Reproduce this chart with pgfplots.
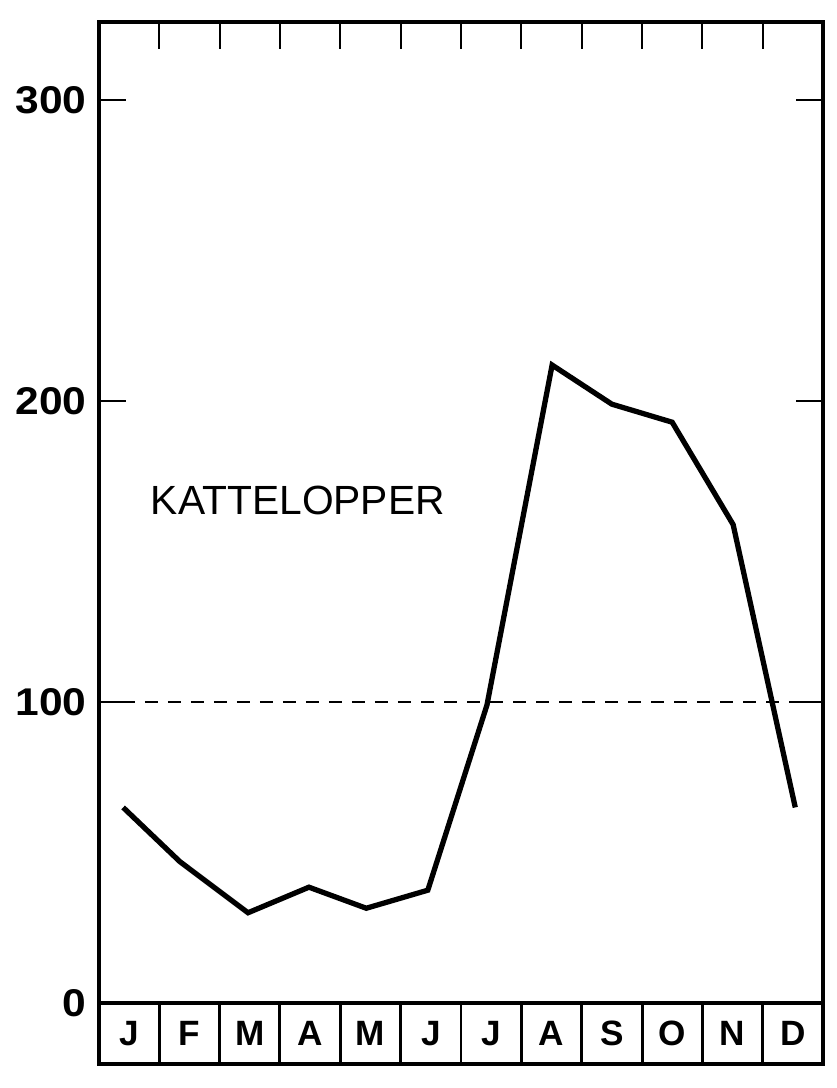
\documentclass[border=0pt]{standalone}
\usepackage{fontspec}
\setmainfont{Liberation Sans}
\newfontfamily\numfont[FakeStretch=1.1]{Liberation Sans}
\usepackage{pgfplots}
\pgfplotsset{compat=1.18}

\begin{document}
\begin{tikzpicture}
\begin{axis}[
  scale only axis,
  width=72.4mm, height=98.1mm,
  xmin=0, xmax=12, ymin=0, ymax=326,
  clip=false,
  axis line style={line width=1.2pt},
  tick align=inside,
  major tick length=2.7mm,
  every tick/.style={black, line width=0.6pt},
  % month boundaries: ticks on top only
  xtick={1,2,3,4,5,6,7,8,9,10,11},
  xticklabels={},
  xtick pos=upper,
  xticklabel pos=lower,
  % month letters sit in the boxes under the frame
  extra x ticks={0.5,1.5,2.5,3.5,4.5,5.5,6.5,7.5,8.5,9.5,10.5,11.5},
  extra x tick labels={J,F,M,A,M,J,J,A,S,O,N,D},
  extra x tick style={major tick length=0pt,
    xticklabel style={anchor=center, yshift=-3.05mm,
      font={\fontsize{10}{12}\selectfont\bfseries}}},
  ytick={0,100,200,300},
  ytick pos=both,
  yticklabel pos=left,
  yticklabel style={font={\fontsize{11}{13}\numfont\bfseries}},
  /pgf/number format/assume math mode=true,
]

% reference level
\addplot[black, line width=0.45pt, dash pattern=on 1.3mm off 1mm]
  coordinates {(0,100) (12,100)};

% monthly index, cat fleas
\addplot[black, line width=1.5pt, line join=miter] coordinates {
  (0.40, 65)
  (1.34, 47)
  (2.47, 30)
  (3.48, 38.5)
  (4.43, 31.5)
  (5.45, 37.5)
  (6.43, 99)
  (7.51, 212)
  (8.50, 199)
  (9.50, 193)
  (10.51,159)
  (11.54, 65)
};

\node[anchor=west, inner sep=0pt, font={\fontsize{11.6}{13}\selectfont}]
  at (axis cs:0.85,167) {KATTELOPPER};

% row of month boxes
\draw[line width=1.1pt] (axis cs:0,0) rectangle (axis cs:12,-20.3);
\pgfplotsinvokeforeach{1,...,11}{
  \draw[line width=0.85pt] (axis cs:#1,0) -- (axis cs:#1,-20.3);
}

\path (rel axis cs:-0.1367,-0.0866) rectangle (rel axis cs:1.0193,1.0224);
\end{axis}
\end{tikzpicture}
\end{document}
